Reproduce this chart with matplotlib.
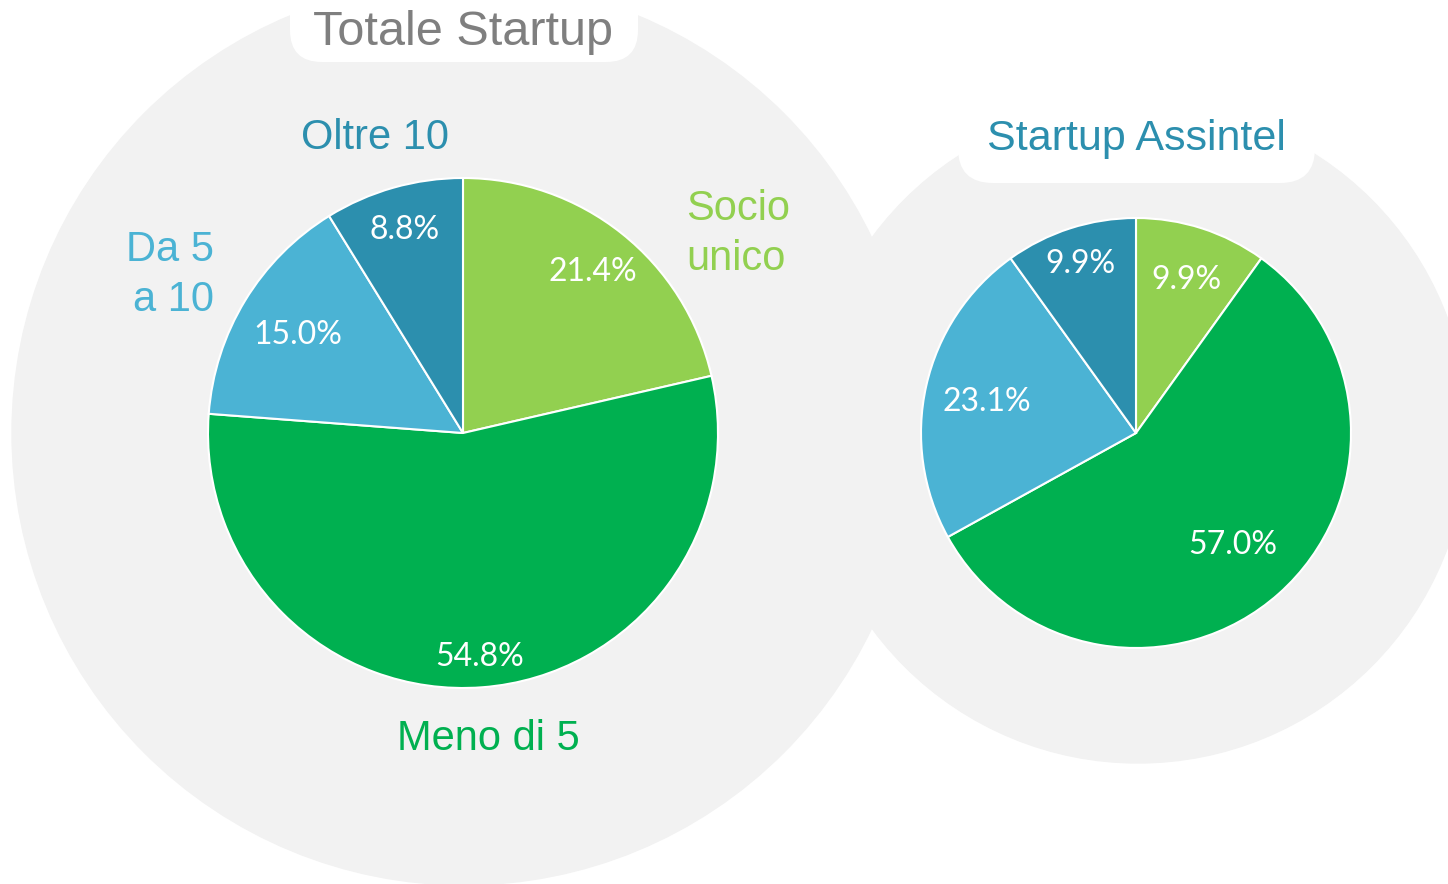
'''
Due torte affiancate: numero di soci, Totale Startup vs Startup Assintel
'''
import numpy as np
import matplotlib
matplotlib.use('Agg')
import matplotlib.pyplot as plt
from matplotlib.patches import Circle, FancyBboxPatch

plt.rcParams['font.family'] = ['Liberation Sans', 'DejaVu Sans']

categorie = ['Socio\nunico', 'Meno di 5', 'Da 5\na 10', 'Oltre 10']
totale_startup = [21.4, 54.8, 15.0, 8.8]
startup_assintel = [9.9, 57.0, 23.1, 9.9]
titoli = ['Totale Startup', 'Startup Assintel']

colori = ['#92D050', '#00B050', '#4BB3D4', '#2C8FAE']

W, H = 1448, 884
fig = plt.figure(figsize=(W / 100, H / 100), dpi=100)
ax = fig.add_axes([0, 0, 1, 1])

GRIGIO = '#F2F2F2'

# cerchi grigi di sfondo
ax.add_patch(Circle((464, 451), 452, color=GRIGIO, zorder=0))
ax.add_patch(Circle((1138, 451), 330, color=GRIGIO, zorder=0))

# riquadri bianchi dei titoli
ax.add_patch(FancyBboxPatch((290, 822), 348, 130, boxstyle='round,pad=0,rounding_size=32',
                            fc='white', ec='none', zorder=1))
ax.add_patch(FancyBboxPatch((958, 701), 357, 260, boxstyle='round,pad=0,rounding_size=35',
                            fc='white', ec='none', zorder=1))


def disegna_torta(valori, centro, raggio, dist_pct):
    wedges, _ = ax.pie(valori, colors=colori, startangle=90, counterclock=False,
                       center=centro, radius=raggio,
                       wedgeprops=dict(edgecolor='white', linewidth=1.5))
    for w, v, d in zip(wedges, valori, dist_pct):
        ang = np.deg2rad((w.theta1 + w.theta2) / 2)
        x = centro[0] + raggio * d * np.cos(ang)
        y = centro[1] + raggio * d * np.sin(ang) - 3
        ax.text(x, y, f'{v:.1f}%', color='white', fontsize=23, family=['Lato', 'DejaVu Sans'],
                ha='center', va='center', zorder=5)


disegna_torta(totale_startup, (463, 451), 255, [0.82, 0.87, 0.76, 0.84])
disegna_torta(startup_assintel, (1136, 451), 215, [0.76, 0.68, 0.71, 0.84])

# titoli
ax.text(463, 839, titoli[0], fontsize=35, color='#7F7F7F', ha='center', va='baseline', zorder=6)
ax.text(1136, 734, titoli[1], fontsize=31, color=colori[3], ha='center', va='baseline', zorder=6)

# etichette delle categorie (torta di sinistra)
ax.text(686, 650, categorie[0], fontsize=30, color=colori[0], ha='left', va='center',
        linespacing=1.33, zorder=6)
ax.text(488, 134, categorie[1], fontsize=30, color=colori[1], ha='center', va='baseline', zorder=6)
ax.text(214, 609, categorie[2], fontsize=30, color=colori[2], ha='right', va='center',
        multialignment='right', linespacing=1.33, zorder=6)
ax.text(375, 735, categorie[3], fontsize=30, color=colori[3], ha='center', va='baseline', zorder=6)

ax.set_xlim(0, W)
ax.set_ylim(0, H)
ax.set_aspect('equal')
ax.axis('off')

fig.savefig('out.png', dpi=100, facecolor='white')
